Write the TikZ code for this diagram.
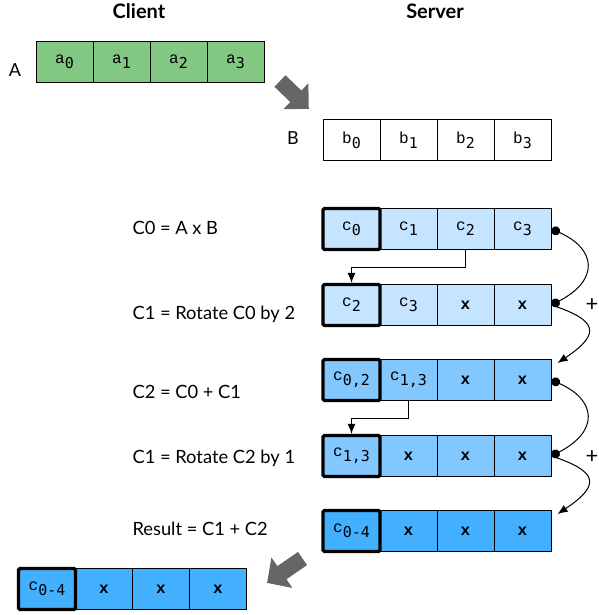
\documentclass[tikz,border=0pt]{standalone}
\usepackage{fontspec}
\setmainfont{Lato}
\newfontfamily\cellfont{Liberation Mono}
\newfontfamily\subfont{DejaVu Sans Mono}
\usetikzlibrary{arrows.meta}

\definecolor{cellgreen}{RGB}{130,200,130}
\definecolor{lightblue}{RGB}{196,228,255}
\definecolor{midblue}{RGB}{130,200,255}
\definecolor{darkblue}{RGB}{66,176,255}
\definecolor{arrowgray}{RGB}{102,102,102}

\newcommand{\el}[2]{#1\raisebox{-5pt}{\fontsize{15}{15}\subfont #2}}

\tikzset{
  cell/.style={draw, line width=1pt, minimum width=57pt, minimum height=41pt,
    inner sep=0pt, font=\fontsize{16}{16}\cellfont},
  xcell/.style={cell, font=\fontsize{16}{16}\cellfont\bfseries},
  firstcell/.style={cell, line width=3.3pt, rounded corners=1.5pt},
  opname/.style={anchor=base west, font=\fontsize{18.3}{20}\selectfont},
  title/.style={anchor=base, font=\fontsize{20}{22}\selectfont\bfseries},
  arrayname/.style={anchor=base, font=\fontsize{18}{20}\selectfont},
  link/.style={line width=1pt},
}

\begin{document}
\begin{tikzpicture}[x=1pt, y=-1pt]
  \useasboundingbox (0,0) rectangle (598,615);

  \node[title] (client) at (139,19) {Client};
  \node[title] (server) at (435,19) {Server};

  % client input
  \node[arrayname] (nameA) at (15,77) {A};
  \node[cell, fill=cellgreen] (a0) at (64.5,62) {\el{a}{0}};
  \node[cell, fill=cellgreen] (a1) at (121.5,62) {\el{a}{1}};
  \node[cell, fill=cellgreen] (a2) at (178.5,62) {\el{a}{2}};
  \node[cell, fill=cellgreen] (a3) at (235.5,62) {\el{a}{3}};

  \fill[arrowgray, shift={(280,81)}, rotate=-44]
    (0,-8) -- (22,-8) -- (22,-18) -- (40,0) -- (22,18) -- (22,8) -- (0,8) -- cycle;

  % server input
  \node[arrayname] (nameB) at (293,144) {B};
  \node[cell, fill=white] (b0) at (351.5,140) {\el{b}{0}};
  \node[cell, fill=white] (b1) at (408.5,140) {\el{b}{1}};
  \node[cell, fill=white] (b2) at (465.5,140) {\el{b}{2}};
  \node[cell, fill=white] (b3) at (522.5,140) {\el{b}{3}};

  % C0 = A x B
  \node[opname] (opC0) at (129,234) {C0 = A x B};
  \node[cell, fill=lightblue] (c01) at (408.5,229) {\el{c}{1}};
  \node[cell, fill=lightblue] (c02) at (465.5,229) {\el{c}{2}};
  \node[cell, fill=lightblue] (c03) at (522.5,229) {\el{c}{3}};
  \node[firstcell, fill=lightblue] (c00) at (351.5,229) {\el{c}{0}};

  % C1 = Rotate C0 by 2
  \node[opname] (opC1) at (129,319) {C1 = Rotate C0 by 2};
  \node[cell, fill=lightblue] (c11) at (408.5,305) {\el{c}{3}};
  \node[xcell, fill=lightblue] (c12) at (465.5,305) {x};
  \node[xcell, fill=lightblue] (c13) at (522.5,305) {x};
  \node[firstcell, fill=lightblue] (c10) at (351.5,305) {\el{c}{2}};

  % C2 = C0 + C1
  \node[opname] (opC2) at (129,398) {C2 = C0 + C1};
  \node[cell, fill=midblue] (c21) at (408.5,380) {\el{c}{1,3}};
  \node[xcell, fill=midblue] (c22) at (465.5,380) {x};
  \node[xcell, fill=midblue] (c23) at (522.5,380) {x};
  \node[firstcell, fill=midblue] (c20) at (351.5,380) {\el{c}{0,2}};

  % C1 = Rotate C2 by 1
  \node[opname] (opC3) at (129,463) {C1 = Rotate C2 by 1};
  \node[xcell, fill=midblue] (c31) at (408.5,456) {x};
  \node[xcell, fill=midblue] (c32) at (465.5,456) {x};
  \node[xcell, fill=midblue] (c33) at (522.5,456) {x};
  \node[firstcell, fill=midblue] (c30) at (351.5,456) {\el{c}{1,3}};

  % Result = C1 + C2
  \node[opname] (opR) at (129,535) {Result = C1 + C2};
  \node[xcell, fill=darkblue] (r1) at (408.5,531) {x};
  \node[xcell, fill=darkblue] (r2) at (465.5,531) {x};
  \node[xcell, fill=darkblue] (r3) at (522.5,531) {x};
  \node[firstcell, fill=darkblue] (r0) at (351.5,531) {\el{c}{0-4}};

  \fill[arrowgray, shift={(302.5,558.5)}, rotate=-145.4]
    (0,-8) -- (25,-8) -- (25,-18.5) -- (43,0) -- (25,18.5) -- (25,8) -- (0,8) -- cycle;

  % back on the client
  \node[xcell, fill=darkblue] (f1) at (104,589) {x};
  \node[xcell, fill=darkblue] (f2) at (161,589) {x};
  \node[xcell, fill=darkblue] (f3) at (218,589) {x};
  \node[firstcell, fill=darkblue] (f0) at (47,589) {\el{c}{0-4}};

  % rotations
  \draw[link, -{Latex[length=10pt,width=8pt]}] (c02.south) -- ++(0,17) -| (c10.north);
  \draw[link, -{Latex[length=10pt,width=8pt]}] (c21.south) -- ++(0,17) -| (c30.north);

  % additions
  \coordinate (in1) at ([xshift=6pt,yshift=-4pt]c23.north east);
  \coordinate (in2) at ([xshift=6pt,yshift=-4pt]r3.north east);
  \draw[link, {Circle[length=9pt]}-{Circle[length=9pt]}] (c03.east) .. controls +(45,20) and +(48,-25) .. (c13.east);
  \draw[link, -{Latex[length=10pt,width=8pt]}] (c13.east) .. controls +(45,15) and +(45,-30) .. (in1);
  \draw[link, {Circle[length=9pt]}-{Circle[length=9pt]}] (c23.east) .. controls +(45,20) and +(48,-25) .. (c33.east);
  \draw[link, -{Latex[length=10pt,width=8pt]}] (c33.east) .. controls +(45,15) and +(45,-30) .. (in2);
  \node[font=\fontsize{22}{24}\selectfont] (plus1) at (592,305) {+};
  \node[font=\fontsize{22}{24}\selectfont] (plus2) at (592,457) {+};
\end{tikzpicture}
\end{document}
